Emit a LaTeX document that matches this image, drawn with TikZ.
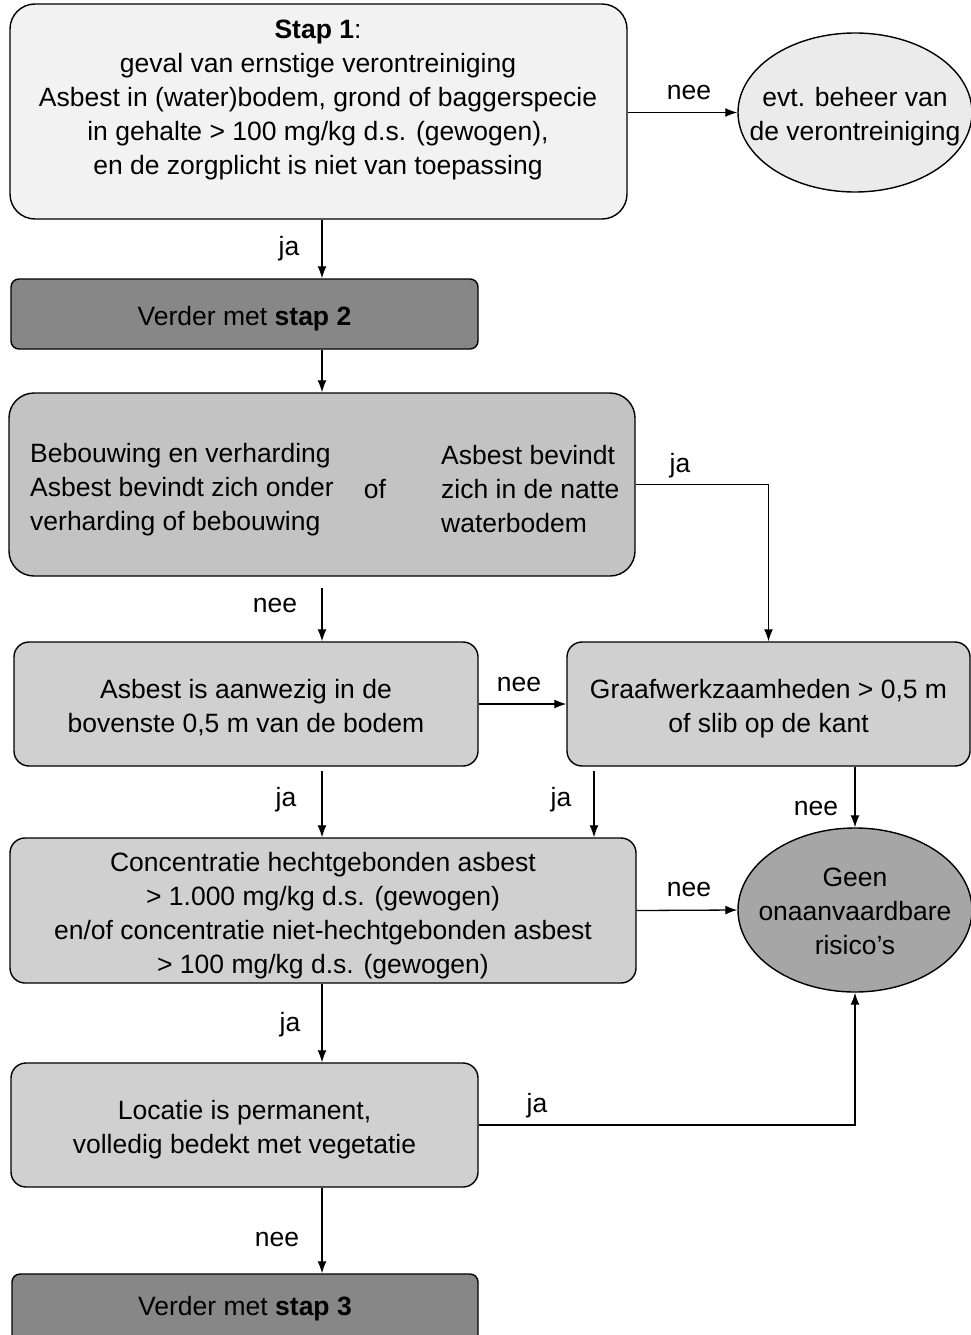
\documentclass[tikz,border=0pt]{standalone}
\usepackage{fontspec}
\setmainfont{Liberation Sans}
\usetikzlibrary{shapes.geometric,arrows.meta}
\definecolor{stapeen}{HTML}{F2F2F2}
\definecolor{beheer}{HTML}{EBEBEB}
\definecolor{verder}{HTML}{878787}
\definecolor{bebouwgrijs}{HTML}{C3C3C3}
\definecolor{vraaggrijs}{HTML}{D0D0D0}
\definecolor{geengrijs}{HTML}{A6A6A6}
\newcommand{\omlaag}[1]{\rule{0pt}{#1pt}}
\begin{document}
\begin{tikzpicture}[x=1pt,y=-1pt,
        every node/.style={inner sep=0pt,align=center,font=\fontsize{26.5}{34}\selectfont},
        box/.style={draw,line width=1.4pt,rounded corners=15pt},
        oval/.style={draw,ellipse,line width=1.4pt},
        arr/.style={->,line width=1.3pt},
        >={Latex[length=12pt,width=9pt]}]
        \useasboundingbox (0,0) rectangle (971,1335);
        \clip (0,0) rectangle (971,1335);
        %Boxes
        \node[box,fill=stapeen,rounded corners=25pt,minimum width=617pt,minimum height=215pt] (stap1) at (318.5,111.5) {};
        \node (stap1txt) at (318,99.5) {\textbf{Stap 1}:\\geval van ernstige verontreiniging\\Asbest in (water)bodem, grond of baggerspecie\\in gehalte > 100 mg/kg d.s. (gewogen),\\en de zorgplicht is niet van toepassing};
        \node[oval,fill=beheer,minimum width=234pt,minimum height=159pt] (evt) at (855,112.5) {};
        \node (evttxt) at (855,116.5) {evt. beheer van\\de verontreiniging};
        \node[box,fill=verder,rounded corners=8pt,minimum width=467pt,minimum height=70pt] (stap2) at (244.5,314) {\omlaag{29}Verder met \textbf{stap 2}};
        \node[box,fill=bebouwgrijs,rounded corners=25pt,minimum width=626pt,minimum height=183pt] (bebouw) at (322,484.5) {};
        \node[anchor=west,align=left] (bebouwL) at (30,490) {Bebouwing en verharding\\Asbest bevindt zich onder\\verharding of bebouwing};
        \node (of) at (375,489) {of};
        \node[anchor=west,align=left] (bebouwR) at (441,489.5) {Asbest bevindt\\zich in de natte\\waterbodem};
        \node[box,fill=vraaggrijs,minimum width=464pt,minimum height=124pt] (aanwezig) at (246,704) {\omlaag{27}Asbest is aanwezig in de\\bovenste 0,5 m van de bodem};
        \node[box,fill=vraaggrijs,minimum width=403pt,minimum height=124pt] (graaf) at (768.5,704) {\omlaag{27.5}Graafwerkzaamheden > 0,5 m\\of slib op de kant};
        \node[box,fill=vraaggrijs,minimum width=626pt,minimum height=145pt] (conc) at (323,910.5) {\omlaag{28.5}Concentratie hechtgebonden asbest\\> 1.000 mg/kg d.s. (gewogen)\\en/of concentratie niet-hechtgebonden asbest\\> 100 mg/kg d.s. (gewogen)};
        \node[oval,fill=geengrijs,minimum width=234pt,minimum height=164pt] (geen) at (855,910) {};
        \node (geentxt) at (855,911.5) {Geen\\onaanvaardbare\\risico’s};
        \node[box,fill=vraaggrijs,minimum width=467pt,minimum height=124pt] (locatie) at (244.5,1125) {\omlaag{29}Locatie is permanent,\\volledig bedekt met vegetatie};
        \node[box,fill=verder,rounded corners=8pt,minimum width=466pt,minimum height=70pt] (stap3) at (245,1309) {Verder met \textbf{stap 3}};
        %Labels
        \node (nee1) at (689,92.5) {nee}; \node (ja1) at (289,248.5) {ja};
        \node (ja2) at (680,465.5) {ja}; \node (nee2) at (275,605.5) {nee};
        \node (nee3) at (519,684.5) {nee}; \node (ja3) at (286,799.5) {ja};
        \node (ja4) at (561,799.5) {ja}; \node (nee4) at (816,808.5) {nee};
        \node (nee5) at (689,889.5) {nee}; \node (ja5) at (290,1024.5) {ja};
        \node (ja6) at (537,1105.5) {ja}; \node (nee6) at (277,1239.5) {nee};
        %Fleches
        \coordinate (spine) at (322,0); \coordinate (jaX) at (594,0);
        \draw[arr] (stap1.south -| spine) -- (stap2.north -| spine);
        \draw[arr] (stap1.east |- evt) -- (evt.west);
        \draw[arr] (stap2.south -| spine) -- (bebouw.north -| spine);
        \draw[arr,shorten <=11pt] (bebouw.south -| spine) -- (aanwezig.north -| spine);
        \draw[arr] (bebouw.east) -| (graaf.north);
        \draw[arr] (aanwezig.east) -- (graaf.west);
        \draw[arr,shorten <=4pt] (aanwezig.south -| spine) -- (conc.north -| spine);
        \draw[arr,shorten <=4pt] (graaf.south -| jaX) -- (conc.north -| jaX);
        \draw[arr] (graaf.south -| geen.north) -- (geen.north);
        \draw[arr] (conc.east) -- (geen.west);
        \draw[arr] (conc.south -| spine) -- (locatie.north -| spine);
        \draw[arr] (locatie.east) -| (geen.south);
        \draw[arr] (locatie.south -| spine) -- (stap3.north -| spine);
\end{tikzpicture}
\end{document}
